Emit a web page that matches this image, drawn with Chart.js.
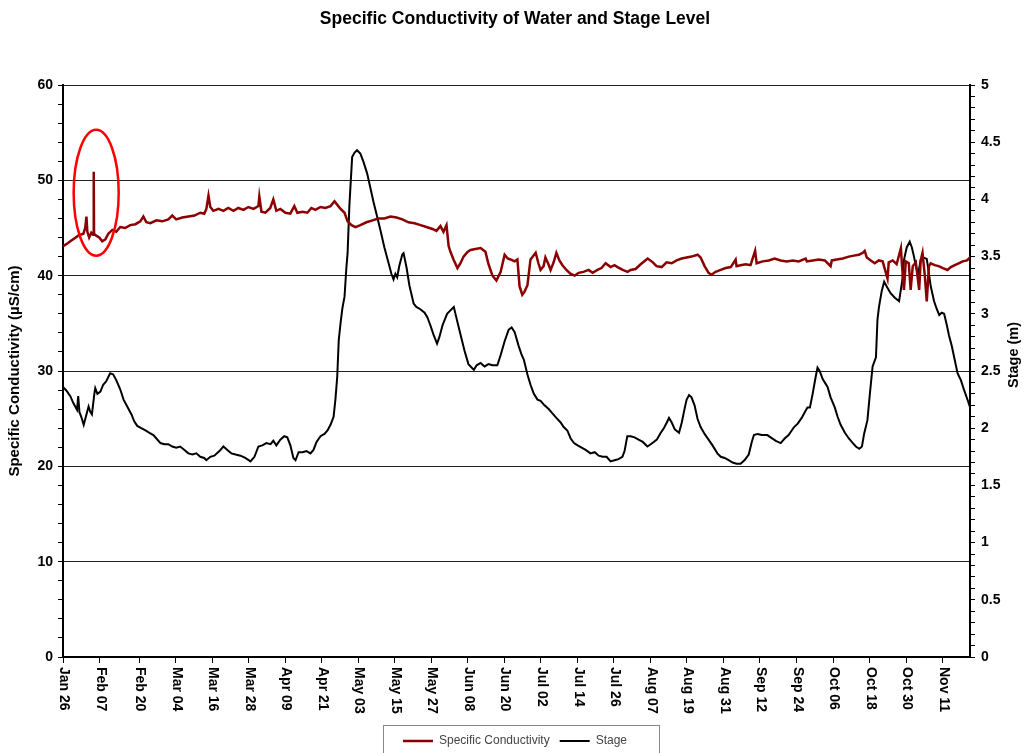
<!DOCTYPE html>
<html>
<head>
<meta charset="utf-8">
<title>Specific Conductivity of Water and Stage Level</title>
<script src="https://cdn.jsdelivr.net/npm/chart.js@4.4.1/dist/chart.umd.min.js"></script>
<style>
  html, body { margin: 0; padding: 0; background: #fff; }
  #wrap { width: 1030px; height: 753px; }
</style>
</head>
<body>
<div id="wrap"><canvas id="grafico"></canvas></div>
<script>
// x axis: days since Jan 26
const tickLabels = ["Jan 26", "Feb 07", "Feb 20", "Mar 04", "Mar 16", "Mar 28", "Apr 09", "Apr 21",
    "May 03", "May 15", "May 27", "Jun 08", "Jun 20", "Jul 02", "Jul 14", "Jul 26", "Aug 07",
    "Aug 19", "Aug 31", "Sep 12", "Sep 24", "Oct 06", "Oct 18", "Oct 30", "Nov 11"];
const tickDays = [0, 12, 25, 37, 49, 61, 73, 85, 97, 109, 121, 133, 145, 157, 169, 181, 193,
    205, 217, 229, 241, 253, 265, 277, 289];

// [day, µS/cm]
const condReadings = [
    [0, 43.1], [1.1, 43.3], [2.4, 43.6], [3.7, 43.9], [5.0, 44.2], [6.7, 44.4], [7.3, 45.0], [7.7, 46.2],
    [8.0, 44.6], [8.6, 44.0], [9.3, 44.5], [9.9, 44.3], [10.1, 50.9], [10.2, 44.4], [10.9, 44.2],
    [11.9, 44.0], [12.9, 43.6], [13.9, 43.8], [14.9, 44.4], [16.2, 44.8], [17.5, 44.6], [18.8, 45.1],
    [20.4, 45.0], [22.1, 45.3], [23.8, 45.4], [25.4, 45.7], [26.4, 46.2], [27.4, 45.6], [28.7, 45.5],
    [30.7, 45.8], [32.6, 45.7], [34.6, 45.9], [35.9, 46.3], [37.2, 45.9], [39.2, 46.1], [41.2, 46.2],
    [43.2, 46.3], [45.1, 46.6], [46.4, 46.5], [47.1, 47.0], [47.8, 48.4], [48.4, 47.2], [49.4, 46.8],
    [51.1, 47.0], [52.7, 46.8], [54.3, 47.1], [56.0, 46.8], [57.6, 47.1], [59.3, 46.9], [60.9, 47.2],
    [62.6, 47.0], [64.2, 47.3], [64.5, 48.3], [65.2, 46.7], [66.5, 46.6], [68.1, 47.1], [69.1, 48.0],
    [70.1, 46.8], [71.4, 47.0], [73.1, 46.6], [74.7, 46.5], [76.0, 47.3], [77.0, 46.6], [78.7, 46.7],
    [80.3, 46.6], [81.6, 47.1], [82.9, 46.9], [84.6, 47.2], [86.2, 47.1], [87.9, 47.3], [89.2, 47.8],
    [90.2, 47.4], [91.2, 47.0], [92.5, 46.6], [93.5, 45.7], [94.8, 45.3], [96.1, 45.1], [97.7, 45.3],
    [99.7, 45.6], [101.7, 45.8], [103.6, 46.0], [105.6, 46.0], [107.6, 46.2], [109.6, 46.1],
    [111.5, 45.9], [113.5, 45.6], [115.5, 45.5], [117.5, 45.3], [119.4, 45.1], [121.4, 44.9],
    [122.7, 44.7], [124.0, 45.2], [125.0, 44.6], [126.0, 45.3], [126.7, 43.1], [127.3, 42.5],
    [128.3, 41.7], [129.6, 40.8], [130.6, 41.3], [131.6, 42.0], [132.9, 42.5], [133.9, 42.7],
    [135.5, 42.8], [137.2, 42.9], [138.8, 42.5], [139.8, 41.2], [141.1, 40.0], [142.4, 39.5],
    [143.8, 40.4], [145.1, 42.2], [146.1, 41.8], [147.0, 41.7], [148.4, 41.5], [149.3, 41.7],
    [150.0, 38.9], [150.9, 38.0], [151.6, 38.3], [152.6, 39.0], [153.6, 41.7], [155.3, 42.4],
    [156.2, 41.3], [156.9, 40.6], [157.9, 41.0], [158.5, 41.9], [159.5, 41.2], [160.2, 40.6],
    [161.2, 41.4], [162.1, 42.4], [163.1, 41.6], [164.1, 41.1], [165.4, 40.6], [166.7, 40.2],
    [168.1, 40.0], [169.4, 40.3], [171.0, 40.4], [172.7, 40.6], [174.0, 40.3], [175.6, 40.6],
    [176.9, 40.8], [178.3, 41.3], [179.9, 40.9], [181.2, 41.1], [182.2, 40.9], [183.9, 40.6],
    [185.5, 40.4], [186.5, 40.6], [188.1, 40.7], [189.8, 41.2], [192.1, 41.8], [193.8, 41.4],
    [195.0, 41.0], [196.7, 40.9], [198.3, 41.4], [200.0, 41.3], [201.6, 41.6], [203.3, 41.8],
    [204.9, 41.9], [206.5, 42.0], [208.5, 42.2], [209.5, 41.9], [210.8, 41.0], [212.1, 40.3],
    [213.1, 40.1], [214.4, 40.4], [216.1, 40.6], [217.7, 40.8], [219.4, 40.9], [221.0, 41.7],
    [221.3, 41.0], [222.6, 41.1], [224.3, 41.2], [225.9, 41.1], [227.4, 42.6], [227.9, 41.3],
    [229.9, 41.5], [231.9, 41.6], [233.8, 41.8], [235.8, 41.6], [237.8, 41.5], [239.8, 41.6],
    [241.7, 41.5], [244.0, 41.8], [244.4, 41.5], [246.3, 41.6], [248.3, 41.7], [250.3, 41.6],
    [252.2, 41.0], [252.6, 41.6], [254.2, 41.7], [256.2, 41.8], [258.2, 42.0], [259.8, 42.1],
    [261.5, 42.2], [262.8, 42.4], [263.4, 42.6], [264.1, 41.9], [265.4, 41.6], [266.7, 41.3],
    [268.0, 41.6], [269.3, 41.5], [270.9, 39.7], [271.3, 41.4], [272.6, 41.6], [273.9, 41.2],
    [275.3, 42.9], [275.6, 41.3], [276.3, 38.5], [276.9, 41.5], [277.9, 41.3], [278.5, 38.5],
    [279.2, 41.0], [280.2, 41.4], [281.3, 38.5], [281.8, 41.6], [282.4, 42.4], [283.1, 40.2],
    [283.8, 37.3], [284.5, 41.0], [285.1, 41.3], [286.4, 41.1], [287.7, 41.0], [289.1, 40.8],
    [290.6, 40.6], [291.7, 40.9], [293.0, 41.1], [294.3, 41.3], [295.6, 41.5], [297.0, 41.6],
    [298.3, 42.0]
];

// [day, m]
const stageReadings = [
    [0, 2.36], [1.1, 2.33], [2.4, 2.28], [3.4, 2.22], [4.6, 2.16], [5.0, 2.28], [5.4, 2.14], [6.0, 2.10],
    [6.8, 2.03], [7.7, 2.12], [8.4, 2.19], [9.0, 2.14], [9.5, 2.12], [10.3, 2.30], [10.6, 2.35],
    [11.3, 2.30], [12.3, 2.32], [13.2, 2.38], [14.2, 2.41], [15.5, 2.48], [16.5, 2.47], [17.5, 2.42],
    [18.8, 2.34], [19.9, 2.25], [21.1, 2.19], [22.5, 2.12], [23.4, 2.06], [24.4, 2.02], [25.7, 2.00],
    [27.1, 1.98], [28.4, 1.96], [29.7, 1.94], [30.7, 1.91], [32.0, 1.87], [33.3, 1.86], [34.6, 1.86],
    [35.9, 1.84], [37.2, 1.83], [38.5, 1.84], [39.9, 1.81], [41.2, 1.78], [42.5, 1.77], [43.8, 1.78],
    [45.1, 1.75], [46.4, 1.74], [47.1, 1.72], [48.4, 1.75], [49.7, 1.76], [51.4, 1.80], [52.7, 1.84],
    [54.0, 1.81], [55.3, 1.78], [56.7, 1.77], [58.3, 1.76], [59.9, 1.74], [61.6, 1.71], [62.9, 1.75],
    [64.2, 1.84], [65.5, 1.85], [66.8, 1.87], [68.2, 1.86], [69.1, 1.89], [70.1, 1.85], [71.4, 1.90],
    [72.7, 1.93], [73.7, 1.92], [74.7, 1.85], [75.7, 1.74], [76.4, 1.72], [77.4, 1.79], [78.7, 1.79],
    [80.0, 1.80], [81.3, 1.78], [82.3, 1.81], [83.3, 1.88], [84.6, 1.93], [85.9, 1.95], [86.9, 1.98],
    [87.9, 2.03], [88.9, 2.10], [89.5, 2.25], [90.1, 2.45], [90.6, 2.77], [91.2, 2.92], [91.8, 3.05],
    [92.5, 3.15], [93.1, 3.40], [93.5, 3.53], [94.1, 3.95], [95.0, 4.37], [95.8, 4.41], [96.6, 4.43],
    [97.7, 4.40], [98.7, 4.33], [99.9, 4.23], [101.0, 4.10], [102.0, 3.98], [103.2, 3.85],
    [104.3, 3.73], [105.6, 3.58], [106.9, 3.45], [107.9, 3.35], [108.6, 3.30], [109.2, 3.35],
    [109.8, 3.32], [110.5, 3.42], [111.5, 3.52], [111.9, 3.53], [112.9, 3.40], [113.8, 3.25],
    [115.2, 3.09], [116.1, 3.06], [117.4, 3.04], [118.8, 3.01], [119.7, 2.97], [120.7, 2.90],
    [121.7, 2.82], [122.9, 2.74], [123.7, 2.80], [124.7, 2.90], [126.2, 3.00], [127.3, 3.03],
    [128.4, 3.06], [129.3, 2.96], [130.6, 2.82], [131.9, 2.68], [133.2, 2.56], [135.0, 2.51],
    [135.9, 2.55], [137.2, 2.57], [138.5, 2.54], [139.8, 2.56], [141.1, 2.55], [142.7, 2.55],
    [143.8, 2.64], [145.1, 2.76], [146.4, 2.86], [147.4, 2.88], [148.4, 2.84], [149.7, 2.72],
    [150.7, 2.64], [151.4, 2.60], [152.6, 2.47], [153.6, 2.38], [154.7, 2.30], [155.9, 2.25],
    [156.9, 2.24], [158.2, 2.20], [159.5, 2.17], [160.8, 2.13], [162.1, 2.09], [163.5, 2.05],
    [164.5, 2.01], [165.7, 1.98], [166.8, 1.91], [167.9, 1.87], [169.1, 1.85], [170.4, 1.83],
    [171.7, 1.81], [173.3, 1.78], [174.7, 1.79], [176.0, 1.76], [177.3, 1.75], [178.6, 1.75],
    [179.9, 1.71], [181.2, 1.72], [182.5, 1.73], [183.8, 1.75], [184.5, 1.80], [185.4, 1.93],
    [186.5, 1.93], [187.8, 1.92], [189.1, 1.90], [190.5, 1.88], [192.0, 1.84], [193.1, 1.86],
    [194.1, 1.88], [195.1, 1.90], [196.4, 1.96], [197.4, 2.00], [198.4, 2.05], [199.1, 2.09],
    [200.0, 2.05], [201.0, 1.99], [202.4, 1.96], [203.3, 2.05], [204.3, 2.18], [204.9, 2.25],
    [205.7, 2.29], [206.5, 2.27], [207.5, 2.20], [208.5, 2.08], [209.5, 2.01], [210.8, 1.95],
    [212.1, 1.90], [213.4, 1.85], [215.0, 1.78], [216.1, 1.75], [217.4, 1.74], [218.7, 1.72],
    [220.0, 1.70], [221.3, 1.69], [222.6, 1.69], [223.9, 1.72], [225.3, 1.77], [226.3, 1.88],
    [227.0, 1.94], [228.2, 1.95], [229.6, 1.94], [231.4, 1.94], [232.5, 1.92], [234.2, 1.89],
    [235.8, 1.87], [237.1, 1.91], [238.4, 1.94], [240.2, 2.01], [241.4, 2.04], [242.7, 2.09],
    [243.7, 2.14], [244.6, 2.18], [245.4, 2.18], [246.3, 2.30], [247.3, 2.45], [247.9, 2.53],
    [248.6, 2.50], [249.6, 2.43], [251.2, 2.36], [252.2, 2.27], [253.6, 2.18], [254.5, 2.10],
    [255.5, 2.03], [256.9, 1.96], [258.2, 1.91], [259.5, 1.87], [260.5, 1.84], [261.6, 1.82],
    [262.5, 1.84], [263.2, 1.95], [264.3, 2.07], [265.1, 2.30], [266.0, 2.54], [267.1, 2.62],
    [267.6, 2.95], [268.1, 3.06], [269.0, 3.20], [269.8, 3.28], [270.6, 3.24], [271.9, 3.18],
    [273.3, 3.14], [274.7, 3.11], [275.8, 3.30], [276.3, 3.47], [277.2, 3.58], [278.2, 3.63],
    [278.9, 3.58], [279.6, 3.50], [280.2, 3.42], [280.9, 3.34], [281.8, 3.47], [282.8, 3.49],
    [283.8, 3.48], [285.1, 3.24], [286.2, 3.11], [287.1, 3.04], [287.9, 2.99], [288.7, 3.01],
    [289.5, 3.00], [290.4, 2.90], [291.1, 2.81], [292.0, 2.72], [292.8, 2.62], [293.9, 2.48],
    [295.0, 2.42], [296.1, 2.33], [297.3, 2.24], [298.3, 2.16]
];

// red circle drawn around the Feb spike
const spikeNote = { day: 10.9, value: 48.7, halfDays: 7.4, halfValue: 6.6 };

const fonte = 'Arial, "Liberation Sans", sans-serif';
Chart.defaults.font.family = fonte;

const notasPlugin = {
    id: "notas",
    afterDraw(chart) {
        const ctx = chart.ctx;
        const xs = chart.scales.x;
        const ys = chart.scales.y;
        const y2 = chart.scales.y2;

        // x tick labels, reading downward
        ctx.save();
        ctx.fillStyle = "#000";
        ctx.font = "bold 14px " + fonte;
        ctx.textAlign = "left";
        ctx.textBaseline = "middle";
        xs.ticks.forEach(function(t, i) {
            const px = xs.getPixelForValue(t.value);
            ctx.save();
            ctx.translate(px + 1, xs.top + 10);
            ctx.rotate(Math.PI / 2);
            ctx.fillText(tickLabels[i], 0, 0);
            ctx.restore();
        });
        ctx.restore();

        // right axis title, reading upward
        ctx.save();
        ctx.fillStyle = "#000";
        ctx.font = "bold 14.5px " + fonte;
        ctx.textAlign = "center";
        ctx.textBaseline = "middle";
        ctx.translate(y2.right - 16, (y2.top + y2.bottom) / 2 - 16);
        ctx.rotate(-Math.PI / 2);
        ctx.fillText("Stage (m)", 0, 0);
        ctx.restore();

        // ellipse
        const cx = xs.getPixelForValue(spikeNote.day);
        const cy = ys.getPixelForValue(spikeNote.value);
        const rx = xs.getPixelForValue(spikeNote.day + spikeNote.halfDays) - cx;
        const ry = cy - ys.getPixelForValue(spikeNote.value + spikeNote.halfValue);
        ctx.save();
        ctx.strokeStyle = "#ff0000";
        ctx.lineWidth = 2.5;
        ctx.beginPath();
        ctx.ellipse(cx, cy, rx, ry, 0, 0, Math.PI * 2);
        ctx.stroke();
        ctx.restore();

        // legend frame
        const lg = chart.legend;
        const hb = lg.legendHitBoxes;
        if (hb && hb.length) {
            const last = hb[hb.length - 1];
            ctx.save();
            ctx.strokeStyle = "#888";
            ctx.lineWidth = 1;
            ctx.strokeRect(Math.round(hb[0].left - 20) + 0.5, Math.round(hb[0].top - 10) + 0.5,
                Math.round(last.left + last.width - hb[0].left + 52), 60);
            ctx.restore();
        }
    }
};

document.addEventListener("DOMContentLoaded", function() {
    const ctx = document.getElementById("grafico").getContext("2d");
    new Chart(ctx, {
        type: "line",
        data: {
            datasets: [{
                label: "Specific Conductivity",
                data: condReadings.map(r => ({ x: r[0], y: r[1] })),
                borderColor: "#8b0000",
                backgroundColor: "#8b0000",
                borderWidth: 2.5,
                pointRadius: 0,
                tension: 0,
                yAxisID: "y"
            }, {
                label: "Stage",
                data: stageReadings.map(r => ({ x: r[0], y: r[1] })),
                borderColor: "#000",
                backgroundColor: "#000",
                borderWidth: 2,
                pointRadius: 0,
                tension: 0,
                yAxisID: "y2"
            }]
        },
        options: {
            responsive: true,
            maintainAspectRatio: false,
            animation: false,
            layout: { padding: { left: 0, right: 0, top: 0, bottom: -4 } },
            scales: {
                x: {
                    type: "linear",
                    min: 0,
                    max: 298,
                    afterBuildTicks: s => { s.ticks = tickDays.map(v => ({ value: v })); },
                    afterFit: s => { s.height = 68; },
                    ticks: { display: false, autoSkip: false },
                    grid: { drawOnChartArea: false, tickLength: 6, tickColor: "#000" },
                    border: { color: "#000", width: 2 }
                },
                y: {
                    position: "left",
                    min: 0,
                    max: 60,
                    afterFit: s => { s.width = 63; },
                    ticks: {
                        stepSize: 2,
                        autoSkip: false,
                        maxTicksLimit: 50,
                        padding: 5,
                        color: "#000",
                        font: { weight: "bold", size: 14 },
                        callback: v => (v % 10 === 0 ? v : "")
                    },
                    grid: {
                        color: c => (c.tick && c.tick.value % 10 === 0 ? "#222" : "rgba(0,0,0,0)"),
                        tickColor: "#000",
                        tickLength: 5,
                        lineWidth: 1
                    },
                    border: { color: "#000", width: 2 },
                    title: {
                        display: true,
                        text: "Specific Conductivity (µS/cm)",
                        color: "#000",
                        font: { weight: "bold", size: 15 },
                        padding: { top: 6, bottom: 0 }
                    }
                },
                y2: {
                    position: "right",
                    min: 0,
                    max: 5,
                    afterFit: s => { s.width = 60; },
                    ticks: {
                        stepSize: 0.1,
                        autoSkip: false,
                        maxTicksLimit: 60,
                        padding: 6,
                        color: "#000",
                        font: { weight: "bold", size: 14 },
                        callback: v => (Math.round(v * 10) % 5 === 0 ? String(Math.round(v * 10) / 10) : "")
                    },
                    grid: { drawOnChartArea: false, tickColor: "#000", tickLength: 5 },
                    border: { color: "#000", width: 2 }
                }
            },
            plugins: {
                title: {
                    display: true,
                    text: "Specific Conductivity of Water and Stage Level",
                    color: "#000",
                    font: { weight: "bold", size: 17.5 },
                    padding: { top: 9, bottom: 55 }
                },
                legend: {
                    position: "bottom",
                    labels: {
                        usePointStyle: true,
                        pointStyle: "line",
                        pointStyleWidth: 30,
                        color: "#444",
                        font: { size: 12 },
                        padding: 10
                    }
                },
                tooltip: { enabled: false }
            }
        },
        plugins: [notasPlugin]
    });
});
</script>
</body>
</html>
